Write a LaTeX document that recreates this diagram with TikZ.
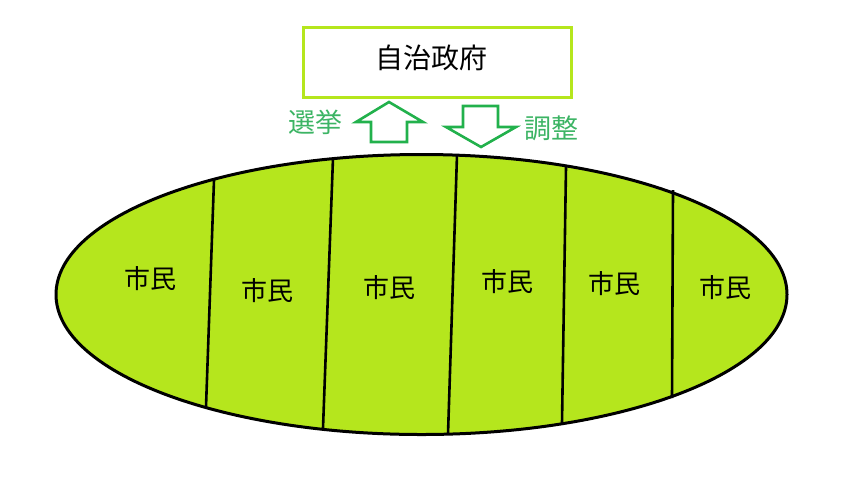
\documentclass[tikz,border=0pt]{standalone}
\usepackage{fontspec}
\setmainfont{Noto Sans CJK JP}
\usetikzlibrary{shapes.geometric}
\definecolor{lime}{RGB}{181,230,29}
\definecolor{arrowgreen}{RGB}{34,177,76}
\definecolor{labelgreen}{RGB}{60,180,100}
\begin{document}
\begin{tikzpicture}[x=1pt,y=-1pt,
  govbox/.style={draw=lime,line width=3pt,minimum width=268pt,minimum height=70pt,inner sep=0pt},
  govtext/.style={font=\fontsize{28}{30}\selectfont,inner sep=0pt},
  bigarrow/.style={draw=arrowgreen,line width=2.6pt,line join=miter},
  sidelabel/.style={text=labelgreen,font=\fontsize{27}{30}\selectfont,inner sep=0pt},
  citizen/.style={font=\fontsize{26}{30}\selectfont,inner sep=0pt},
  divider/.style={draw=black,line width=2.6pt},
  city/.style={ellipse,draw=black,fill=lime,line width=3pt,minimum width=731pt,minimum height=280pt,inner sep=0pt}]
\useasboundingbox (0,0) rectangle (850,488);
% government box
\node[govbox] (gov) at (437.5,62.5) {};
\node[govtext] (govlabel) at (431,58) {自治政府};
% citizens ellipse
\node[city] (cityE) at (421.5,294.5) {};
% dividers
\coordinate (d1t) at (214,180); \coordinate (d1b) at (206,407);
\coordinate (d2t) at (333,158); \coordinate (d2b) at (323,428);
\coordinate (d3t) at (457,155); \coordinate (d3b) at (448,434);
\coordinate (d4t) at (566,167); \coordinate (d4b) at (562,423);
\coordinate (d5t) at (673,190); \coordinate (d5b) at (672,398);
\draw[divider] (d1t) -- (d1b);
\draw[divider] (d2t) -- (d2b);
\draw[divider] (d3t) -- (d3b);
\draw[divider] (d4t) -- (d4b);
\draw[divider] (d5t) -- (d5b);
% citizen labels
\node[citizen] (c1) at (150,279) {市民};
\node[citizen] (c2) at (267,291) {市民};
\node[citizen] (c3) at (389,288) {市民};
\node[citizen] (c4) at (507,282) {市民};
\node[citizen] (c5) at (614,284) {市民};
\node[citizen] (c6) at (725,288) {市民};
% arrows
\draw[bigarrow] (389,102) -- (423,122) -- (407,122) -- (407,142) -- (371,142) -- (371,122) -- (356,122) -- cycle;
\draw[bigarrow] (463,106) -- (498,106) -- (498,127) -- (516,127) -- (481,147) -- (446,127) -- (463,127) -- cycle;
% arrow labels
\node[sidelabel] (elect) at (315,122) {選挙};
\node[sidelabel] (adjust) at (551,128) {調整};
\end{tikzpicture}
\end{document}
